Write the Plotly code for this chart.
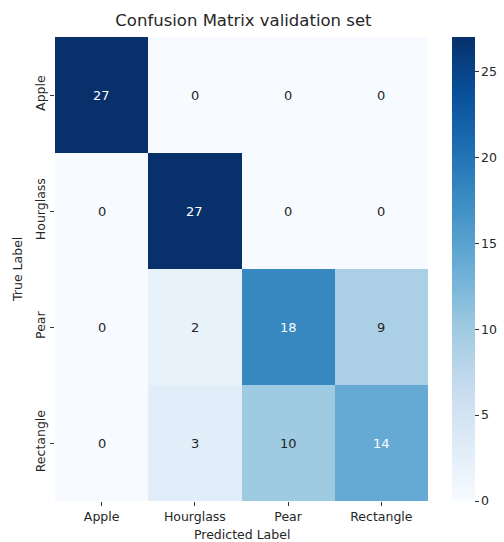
import plotly.graph_objects as go

labels = ["Apple", "Hourglass", "Pear", "Rectangle"]
matrix = [
    [27, 0, 0, 0],
    [0, 27, 0, 0],
    [0, 2, 18, 9],
    [0, 3, 10, 14],
]
cbar_ticks = [0, 5, 10, 15, 20, 25]

blues = [
    [0.0, "rgb(247,251,255)"], [0.125, "rgb(222,235,247)"], [0.25, "rgb(198,219,239)"],
    [0.375, "rgb(158,202,225)"], [0.5, "rgb(107,174,214)"], [0.625, "rgb(66,146,198)"],
    [0.75, "rgb(33,113,181)"], [0.875, "rgb(8,81,156)"], [1.0, "rgb(8,48,107)"],
]
zmax = max(max(r) for r in matrix)

FONT = "DejaVu Sans, sans-serif"
fig = go.Figure(go.Heatmap(
    z=matrix, x=labels, y=labels, colorscale=blues, zmin=0, zmax=zmax,
    xgap=0, ygap=0, hoverongaps=False,
    colorbar=dict(
        thickness=23, len=1, lenmode="fraction", x=1.064, xanchor="left",
        y=0.5, yanchor="middle", outlinewidth=0, xpad=0, ypad=0,
        tickvals=cbar_ticks, ticks="outside", ticklen=4, tickcolor="#333",
        tickfont=dict(family=FONT, size=12.5, color="#262626"),
    ),
))

annotations = []
for i, row in enumerate(matrix):
    for j, v in enumerate(row):
        annotations.append(dict(
            x=labels[j], y=labels[i], text=str(v), showarrow=False,
            font=dict(family=FONT, size=13, color="#ffffff" if v > 12 else "#262626"),
        ))
annotations.append(dict(
    text="True Label", xref="paper", yref="paper", x=-0.102, y=0.5,
    xanchor="center", yanchor="middle", textangle=-90, showarrow=False,
    font=dict(family=FONT, size=12.5, color="#262626"),
))
annotations.append(dict(
    text="Predicted Label", xref="paper", yref="paper", x=0.5, y=-0.072,
    xanchor="center", yanchor="middle", showarrow=False,
    font=dict(family=FONT, size=12.5, color="#262626"),
))

fig.update_layout(
    width=504, height=542,
    margin=dict(l=55, r=76, t=37, b=41, autoexpand=False),
    paper_bgcolor="white", plot_bgcolor="white",
    title=dict(text="Confusion Matrix validation set", x=0.483, xanchor="center",
               y=0.963, yanchor="middle",
               font=dict(family=FONT, size=16.5, color="#262626")),
    annotations=annotations,
    font=dict(family=FONT, color="#262626"),
)
fig.update_xaxes(
    tickfont=dict(size=12.5), ticks="outside", ticklen=4, tickcolor="#333",
    showgrid=False, zeroline=False, showline=False, automargin=False,
)
fig.update_yaxes(
    tickfont=dict(size=12.5), tickangle=-90, ticks="outside", ticklen=4, tickcolor="#333",
    autorange="reversed", showgrid=False, zeroline=False, showline=False, automargin=False,
)

fig.write_html("out.html", config={"displayModeBar": False},
               post_script="document.body.style.margin='0';document.body.style.overflow='hidden';")
